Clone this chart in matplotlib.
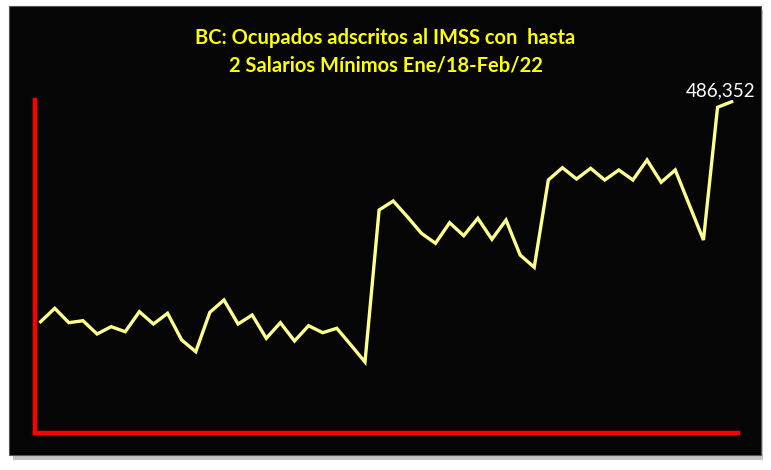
import numpy as np
import matplotlib
matplotlib.use('Agg')
from matplotlib import pyplot as plt
from matplotlib.patches import FancyBboxPatch

# monthly values, Jan/2018 - Feb/2022
months = ['Ene/18', 'Feb/18', 'Mar/18', 'Abr/18', 'May/18', 'Jun/18', 'Jul/18', 'Ago/18',
          'Sep/18', 'Oct/18', 'Nov/18', 'Dic/18',
          'Ene/19', 'Feb/19', 'Mar/19', 'Abr/19', 'May/19', 'Jun/19', 'Jul/19', 'Ago/19',
          'Sep/19', 'Oct/19', 'Nov/19', 'Dic/19',
          'Ene/20', 'Feb/20', 'Mar/20', 'Abr/20', 'May/20', 'Jun/20', 'Jul/20', 'Ago/20',
          'Sep/20', 'Oct/20', 'Nov/20', 'Dic/20',
          'Ene/21', 'Feb/21', 'Mar/21', 'Abr/21', 'May/21', 'Jun/21', 'Jul/21', 'Ago/21',
          'Sep/21', 'Oct/21', 'Nov/21', 'Dic/21',
          'Ene/22', 'Feb/22']
ocupados = [163390, 183060, 161920, 164860, 145330, 156050, 148710, 178070,
            160010, 175720, 136520, 119350,
            177190, 195240, 160010, 173220, 139020, 161920, 135060, 157520,
            147240, 153700, 129180, 104230,
            327360, 340580, 317530, 293160, 278480, 308720, 289640, 315180,
            284350, 312680, 261300, 243250,
            371400, 389460, 372870, 388580, 371400, 386080, 371400, 400760,
            368030, 386080, 334700, 283320,
            478130, 486352]
title = 'BC: Ocupados adscritos al IMSS con  hasta\n2 Salarios Mínimos Ene/18-Feb/22'

fig = plt.figure(figsize=(7.71, 4.70), dpi=100)
fig.patch.set_facecolor('white')

# shadow and black panel
shadow = FancyBboxPatch((13 / 771, 10 / 470), 750 / 771, 450 / 470,
                        boxstyle='square,pad=0', transform=fig.transFigure,
                        facecolor='#c4c4c4', edgecolor='none', zorder=-3)
panel = FancyBboxPatch((9 / 771, 15 / 470), 752 / 771, 449 / 470,
                       boxstyle='square,pad=0', transform=fig.transFigure,
                       facecolor='#050505', edgecolor='#555555', linewidth=0.8, zorder=-2)
fig.patches.extend([shadow, panel])

ax = fig.add_axes([35 / 771, 37 / 470, 703 / 771, 333 / 470])
ax.set_facecolor('none')
ax.set_zorder(2)
x = np.arange(len(ocupados))
ax.plot(x, ocupados, color='#ffff8c', linewidth=2.4, solid_joinstyle='miter', zorder=3)
ax.set_xlim(-0.4, 49.45)
ax.set_ylim(0, 488840)

for s in ['top', 'right']:
    ax.spines[s].set_visible(False)
for s in ['left', 'bottom']:
    ax.spines[s].set_color('#ff0000')
    ax.spines[s].set_linewidth(3.2)
ax.set_xticks([])
ax.set_yticks([])

ax.annotate(f'{ocupados[-1]:,}', (x[-1], ocupados[-1]), xytext=(17, 2),
            textcoords='offset points', ha='right', va='bottom',
            color='white', fontsize=13.5, family=['Lato', 'DejaVu Sans'],
            annotation_clip=False)

fig.text(0.5, 0.89, title, ha='center', va='center', color='#ffff00',
         fontsize=14.5, fontweight='bold', linespacing=1.45,
         family=['Lato', 'DejaVu Sans'])

fig.savefig('out.png', dpi=100, facecolor='white')
